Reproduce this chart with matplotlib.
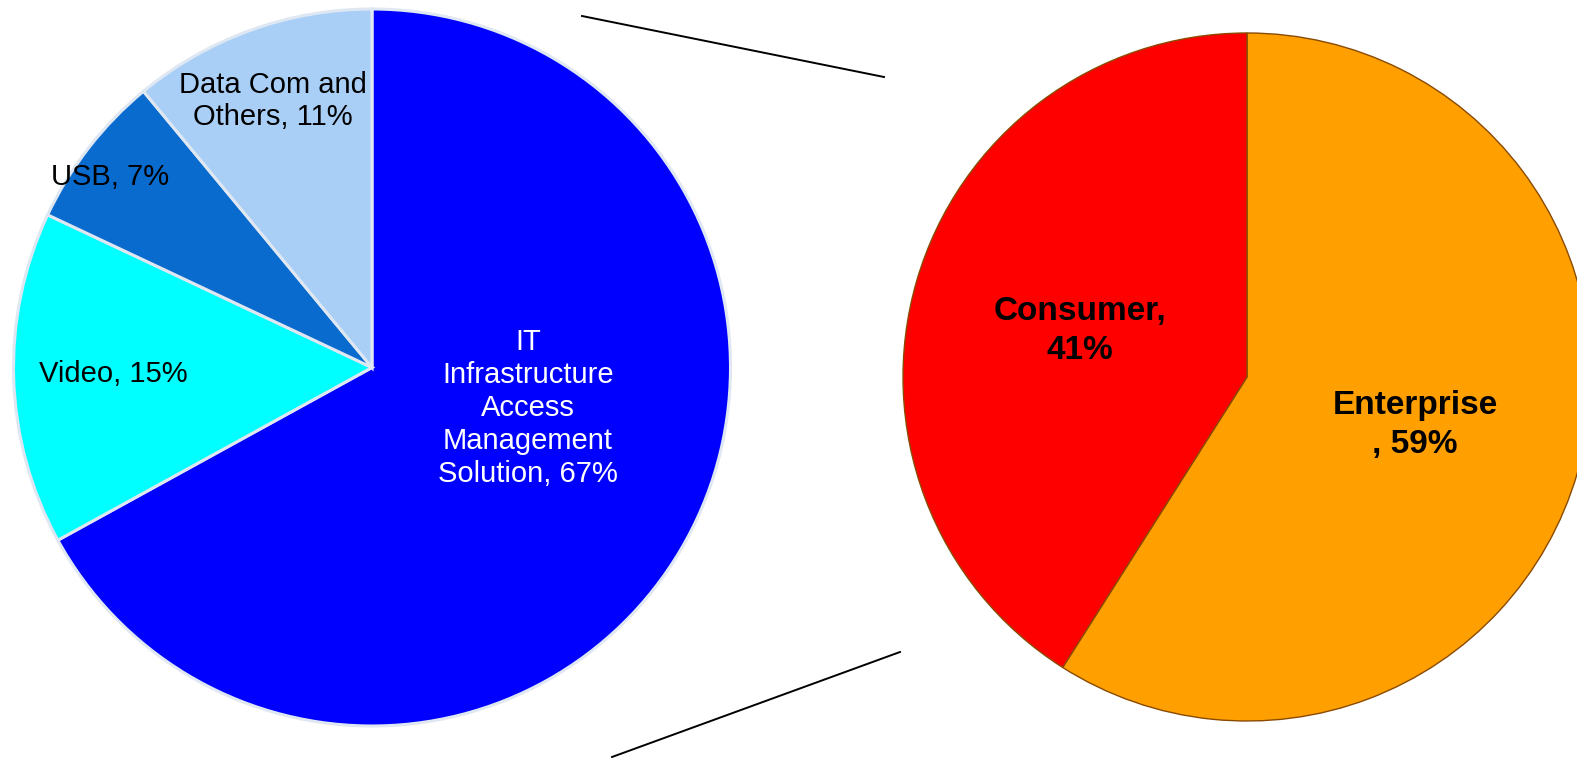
import matplotlib.pyplot as plt

# Left pie: revenue share by segment
left_labels = ["IT\nInfrastructure\nAccess\nManagement\nSolution, 67%",
               "Video, 15%", "USB, 7%", "Data Com and\nOthers, 11%"]
left_shares = [67, 15, 7, 11]
left_colors = ["#0000FF", "#00FFFF", "#0A6BCF", "#A9CFF7"]

# Right pie: split of the IT segment
right_labels = ["Enterprise\n, 59%", "Consumer,\n41%"]
right_shares = [59, 41]
right_colors = ["#FFA000", "#FF0000"]

W, H = 1577, 758
fig = plt.figure(figsize=(W / 100, H / 100), dpi=100)
ax = fig.add_axes([0, 0, 1, 1])

plt.rcParams['font.family'] = ['Liberation Sans', 'DejaVu Sans']

# pie geometry in pixel units (y measured upward)
lc, lr = (372, H - 367.5), 358.5
rc, rr = (1247, H - 377), 344

ax.pie(left_shares, colors=left_colors, startangle=90, counterclock=False,
       center=lc, radius=lr,
       wedgeprops=dict(edgecolor="#dfe8f2", linewidth=2.2))
ax.pie(right_shares, colors=right_colors, startangle=90, counterclock=False,
       center=rc, radius=rr,
       wedgeprops=dict(edgecolor="#8a4a00", linewidth=1.0))

# label placement
left_pos = [(528, 408), (113, 374), (110, 177), (273, 101)]
left_txt_colors = ["white", "black", "black", "black"]
left_sizes = [21, 21, 21, 21]
for lab, (x, y), c, s in zip(left_labels, left_pos, left_txt_colors, left_sizes):
    ax.text(x, H - y, lab, ha="center", va="center", color=c, fontsize=s,
            linespacing=1.22, multialignment="center")

right_pos = [(1415, 425), (1080, 331)]
for lab, (x, y) in zip(right_labels, right_pos):
    ax.text(x, H - y, lab, ha="center", va="center", color="black", fontsize=24,
            fontweight="bold", linespacing=1.35, multialignment="center")

# connector lines between the two pies
ax.plot([582, 884], [H - 16, H - 77], color="black", lw=1.4)
ax.plot([612, 900], [H - 757, H - 652], color="black", lw=1.4)

ax.set_xlim(0, W)
ax.set_ylim(0, H)
ax.set_aspect("equal")
ax.axis("off")

plt.savefig("out.png", dpi=100)
